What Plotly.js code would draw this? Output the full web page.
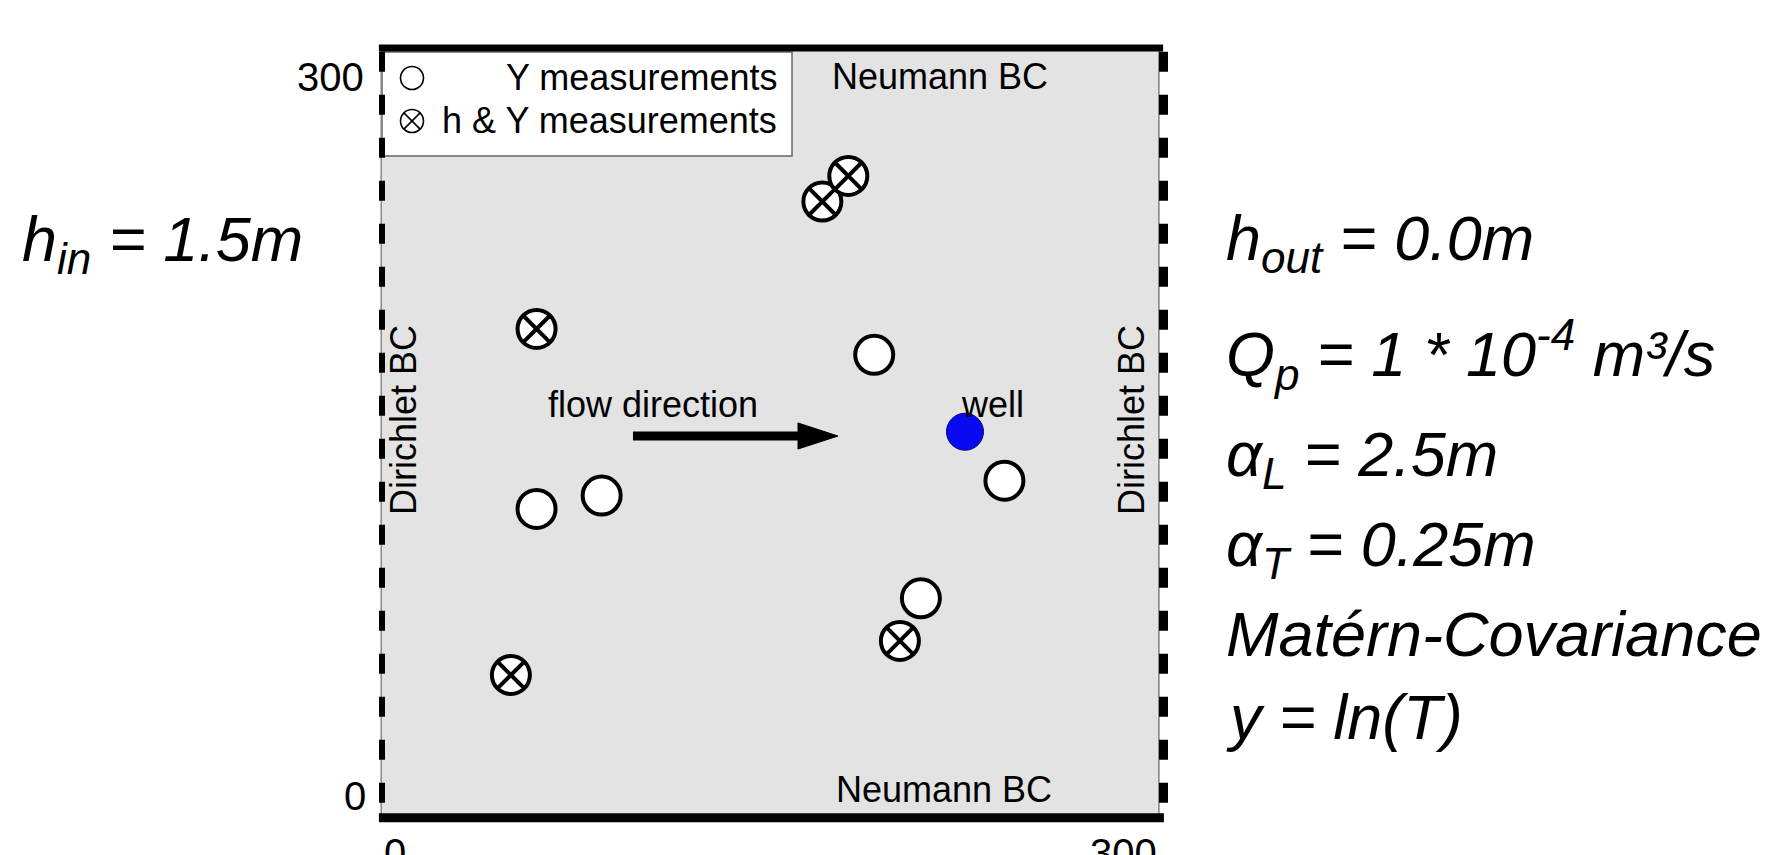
<!DOCTYPE html>
<html>
<head>
<meta charset="utf-8">
<script src="https://cdn.plot.ly/plotly-3.0.1.min.js"></script>
<style>html,body{margin:0;padding:0;background:#fff;}#chart{width:1772px;height:855px;}</style>
</head>
<body>
<div id="chart"></div>
<script>
// ---- data (domain coordinates, 0..300 m) ----
const yMeasX = [189.8, 240.0, 207.8, 59.6, 84.7];
const yMeasY = [180.3, 131.2, 85.3, 120.2, 125.4];
const hyMeasX = [59.6, 169.8, 179.8, 199.7, 49.7];
const hyMeasY = [190.4, 240.1, 250.1, 68.7, 55.4];
const wellX = [224.8];
const wellY = [150.3];
const seriesNames = ['Y measurements', 'h & Y measurements', 'well'];
const tickLabels = ['0', '300'];
const paramLines = [
  '<i>h<sub>out</sub> = 0.0m</i>',
  '<i>Q<sub>p</sub> = 1 * 10<sup>-4</sup> m³/s</i>',
  '<i>α<sub>L</sub> = 2.5m</i>',
  '<i>α<sub>T</sub> = 0.25m</i>',
  '<i>Matérn-Covariance</i>',
  '<i>y = ln(T)</i>'
];
const inletLabel = '<i>h<sub>in</sub> = 1.5m</i>';

// ---- styling / layout ----
const FONT = 'Liberation Sans, Arial, sans-serif';
const paramY = [0.8016, 0.6614, 0.5208, 0.4035, 0.2861, 0.1781];

const traces = [
  {x: yMeasX, y: yMeasY, name: seriesNames[0], type: 'scatter', mode: 'markers', showlegend: false,
   marker: {symbol: 'circle', size: 38, color: '#ffffff', line: {color: '#000000', width: 4}}},
  {x: hyMeasX, y: hyMeasY, name: seriesNames[1], type: 'scatter', mode: 'markers', showlegend: false,
   marker: {symbol: 'circle-x', size: 38, color: '#ffffff', line: {color: '#000000', width: 4}}},
  {x: wellX, y: wellY, name: seriesNames[2], type: 'scatter', mode: 'markers', showlegend: false,
   marker: {symbol: 'circle', size: 37, color: '#0a0af2', line: {color: '#00007a', width: 1}}}
];

const ann = [];
function txt(x, y, text, size, opts) {
  ann.push(Object.assign({xref: 'paper', yref: 'paper', x: x, y: y, text: text, showarrow: false,
    font: {family: FONT, size: size, color: '#000'}, xanchor: 'center', yanchor: 'middle'}, opts || {}));
}
// legend text
txt(0.5103, 0.9610, seriesNames[0], 36, {xanchor: 'right'});
txt(0.5103, 0.9051, seriesNames[1], 36, {xanchor: 'right'});
// boundary labels
txt(0.7166, 0.9630, 'Neumann BC', 36);
txt(0.7224, 0.0358, 'Neumann BC', 36);
txt(0.0283, 0.5163, 'Dirichlet BC', 36, {textangle: -90});
txt(0.9640, 0.5163, 'Dirichlet BC', 36, {textangle: -90});
txt(0.3483, 0.5358, 'flow direction', 36);
txt(0.7853, 0.5358, 'well', 36);
// tick labels
txt(-0.0206, 0.9623, tickLabels[1], 40, {xanchor: 'right'});
txt(-0.0180, 0.0273, tickLabels[0], 40, {xanchor: 'right'});
txt(0.0167, -0.0156, tickLabels[0], 40, {yanchor: 'top'});
txt(0.9537, -0.0156, tickLabels[1], 40, {yanchor: 'top'});
// parameter text
txt(-0.4653, 0.8003, inletLabel, 63, {xanchor: 'left', yanchor: 'top'});
paramLines.forEach((t, i) => txt(1.0823, paramY[i], t, 63, {xanchor: 'left', yanchor: 'top'}));

const P = {xref: 'paper', yref: 'paper'};
const shapes = [
  // legend box
  Object.assign({type: 'rect', x0: 0, x1: 0.527, y0: 0.8596, y1: 0.9948,
   fillcolor: '#ffffff', line: {color: '#666', width: 1.5}, layer: 'below'}, P),
  // legend keys
  Object.assign({type: 'circle', x0: 0.02378, x1: 0.05334, y0: 0.9460, y1: 0.9759,
   fillcolor: '#ffffff', line: {color: '#000', width: 1.6}}, P),
  Object.assign({type: 'circle', x0: 0.02378, x1: 0.05334, y0: 0.8901, y1: 0.9200,
   fillcolor: '#ffffff', line: {color: '#000', width: 1.6}}, P),
  Object.assign({type: 'line', x0: 0.02815, x1: 0.04897, y0: 0.9156, y1: 0.8945, line: {color: '#000', width: 1.6}}, P),
  Object.assign({type: 'line', x0: 0.02815, x1: 0.04897, y0: 0.8945, y1: 0.9156, line: {color: '#000', width: 1.6}}, P),
  // thin gray frame sides
  Object.assign({type: 'line', x0: -0.001, x1: -0.001, y0: 0, y1: 1, line: {color: '#888', width: 1.5}}, P),
  Object.assign({type: 'line', x0: 0.9985, x1: 0.9985, y0: 0, y1: 1, line: {color: '#888', width: 1.5}}, P),
  // Neumann boundaries (solid thick)
  Object.assign({type: 'line', x0: -0.004, x1: 1.004, y0: 1, y1: 1, line: {color: '#000', width: 7}}, P),
  Object.assign({type: 'line', x0: -0.004, x1: 1.005, y0: -0.001, y1: -0.001, line: {color: '#000', width: 9}}, P),
  // Dirichlet boundaries (dashed thick)
  Object.assign({type: 'line', x0: 0, x1: 0, y0: 0.995, y1: 0, line: {color: '#000', width: 6, dash: '20px,23px'}}, P),
  Object.assign({type: 'line', x0: 1.0045, x1: 1.0045, y0: 0.995, y1: 0, line: {color: '#000', width: 9, dash: '20px,23px'}}, P),
  // flow arrow
  Object.assign({type: 'line', x0: 0.3226, x1: 0.540, y0: 0.4954, y1: 0.4954, line: {color: '#000', width: 9}}, P),
  Object.assign({type: 'path', path: 'M 0.5347 0.5124 L 0.5861 0.4954 L 0.5347 0.4785 Z',
   fillcolor: '#000', line: {color: '#000', width: 1}}, P)
];

const layout = {
  width: 1772, height: 855,
  margin: {l: 382, r: 612, t: 48, b: 38, pad: 0},
  paper_bgcolor: '#ffffff', plot_bgcolor: '#e3e3e3',
  xaxis: {range: [0, 300], showgrid: false, zeroline: false, showticklabels: false, ticks: '', showline: false, fixedrange: true},
  yaxis: {range: [0, 300], showgrid: false, zeroline: false, showticklabels: false, ticks: '', showline: false, fixedrange: true},
  showlegend: false,
  annotations: ann,
  shapes: shapes,
  font: {family: FONT, size: 36, color: '#000'}
};

Plotly.newPlot('chart', traces, layout, {displayModeBar: false, staticPlot: true});
</script>
</body>
</html>
